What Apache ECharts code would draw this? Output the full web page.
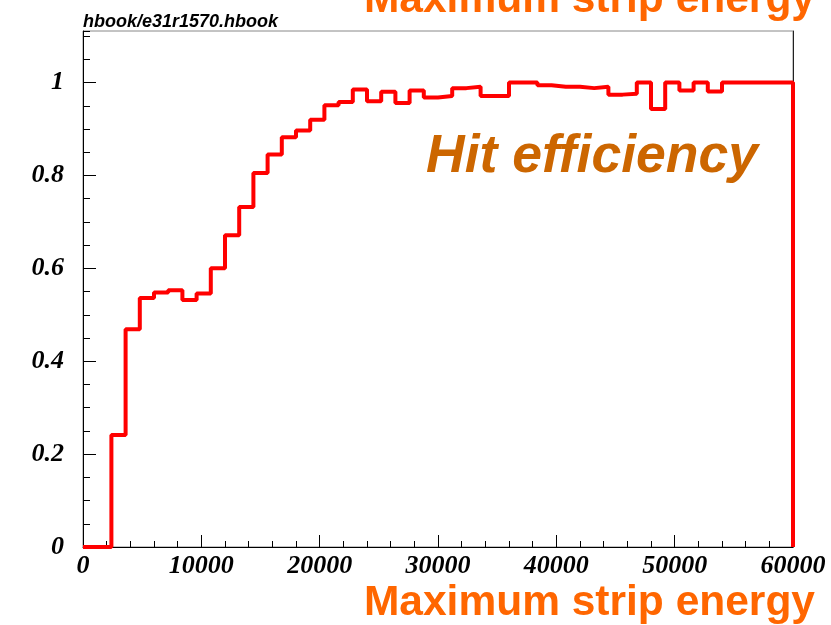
<!DOCTYPE html>
<html>
<head>
<meta charset="utf-8">
<script src="https://cdn.jsdelivr.net/npm/echarts@6/dist/echarts.min.js"></script>
<style>html,body{margin:0;padding:0;background:#fff}#c{width:831px;height:625px}</style>
</head>
<body>
<div id="c"></div>
<script>
// Histogram: 50 bins of width 1200 from 0 to 60000
const binWidth = 1200;
const xMin = 0, xMax = 60000;
const yMin = 0, yMax = 1.111;
const xTickStep = 10000;
const yTickStep = 0.2;
const efficiency = [
  0, 0, 0.241, 0.469, 0.536, 0.548, 0.553, 0.532, 0.546, 0.600,
  0.671, 0.732, 0.805, 0.845, 0.882, 0.897, 0.920, 0.951, 0.958, 0.985,
  0.960, 0.980, 0.956, 0.983, 0.968, 0.971, 0.988, 0.991, 0.971, 0.971,
  1.000, 1.000, 0.994, 0.991, 0.991, 0.988, 0.991, 0.974, 0.976, 1.000,
  0.943, 1.000, 0.983, 1.000, 0.981, 1.000, 1.000, 1.000, 1.000, 1.000
];
const fileLabel = 'hbook/e31r1570.hbook';
const xTitle = 'Maximum strip energy';
const plotTitle = 'Hit efficiency';

const pts = efficiency.map((v, i) => [i * binWidth, v]);
pts.push([xMax, 0]);

const serifFont = {fontFamily: '"Liberation Serif", "Times New Roman", serif', fontWeight: 'bold', fontStyle: 'italic', fontSize: 26, color: '#000'};

const chart = echarts.init(document.getElementById('c'), null, {renderer: 'canvas'});
chart.setOption({
  animation: false,
  backgroundColor: '#fff',
  grid: {left: 83, right: 38, top: 31, bottom: 78, show: true, borderColor: '#888', borderWidth: 1, backgroundColor: 'transparent'},
  xAxis: [{
    type: 'value', min: xMin, max: xMax, interval: xTickStep, position: 'bottom',
    axisLine: {show: true, onZero: false, lineStyle: {color: '#000', width: 1}},
    axisTick: {show: true, inside: true, length: 12, lineStyle: {color: '#000', width: 1}},
    minorTick: {show: true, splitNumber: 5, length: 6, lineStyle: {color: '#000', width: 1}},
    splitLine: {show: false},
    axisLabel: Object.assign({margin: 6, formatter: v => String(v)}, serifFont)
  }],
  yAxis: [{
    type: 'value', min: yMin, max: yMax, interval: yTickStep, position: 'left',
    axisLine: {show: true, onZero: false, lineStyle: {color: '#000', width: 1}},
    axisTick: {show: true, inside: true, length: 13, lineStyle: {color: '#000', width: 1}},
    splitLine: {show: false},
    axisLabel: Object.assign({margin: 19, showMaxLabel: false, formatter: v => String(Math.round(v * 10) / 10)}, serifFont)
  }, {
    type: 'value', min: yMin, max: yMax, interval: 0.05, position: 'left',
    axisLine: {show: false},
    axisTick: {show: true, inside: true, length: 7, lineStyle: {color: '#000', width: 1}},
    splitLine: {show: false},
    axisLabel: {show: false}
  }, {
    type: 'value', min: yMin, max: yMax, position: 'right',
    axisLine: {show: true, onZero: false, lineStyle: {color: '#222', width: 1}},
    axisTick: {show: false}, splitLine: {show: false}, axisLabel: {show: false}
  }],
  series: [{
    type: 'line', xAxisIndex: 0, yAxisIndex: 0, step: 'end', data: pts,
    showSymbol: false, symbol: 'none', clip: false, z: 1,
    lineStyle: {color: '#ff0000', width: 4}
  }],
  graphic: [
    {type: 'text', x: 815, y: 603, style: {text: xTitle, font: 'bold 42.5px "Liberation Sans", Arial, sans-serif', fill: '#ff6600', align: 'right', verticalAlign: 'middle'}},
    {type: 'text', x: 815, y: 0, style: {text: xTitle, font: 'bold 42.5px "Liberation Sans", Arial, sans-serif', fill: '#ff6600', align: 'right', verticalAlign: 'middle'}},
    {type: 'text', x: 426, y: 157, style: {text: plotTitle, font: 'italic bold 53.5px "Liberation Sans", Arial, sans-serif', fill: '#cc6600', align: 'left', verticalAlign: 'middle'}},
    {type: 'text', x: 83, y: 22, style: {text: fileLabel, font: 'italic bold 18px "Liberation Sans", Arial, sans-serif', fill: '#000', align: 'left', verticalAlign: 'middle'}}
  ]
});
</script>
</body>
</html>
